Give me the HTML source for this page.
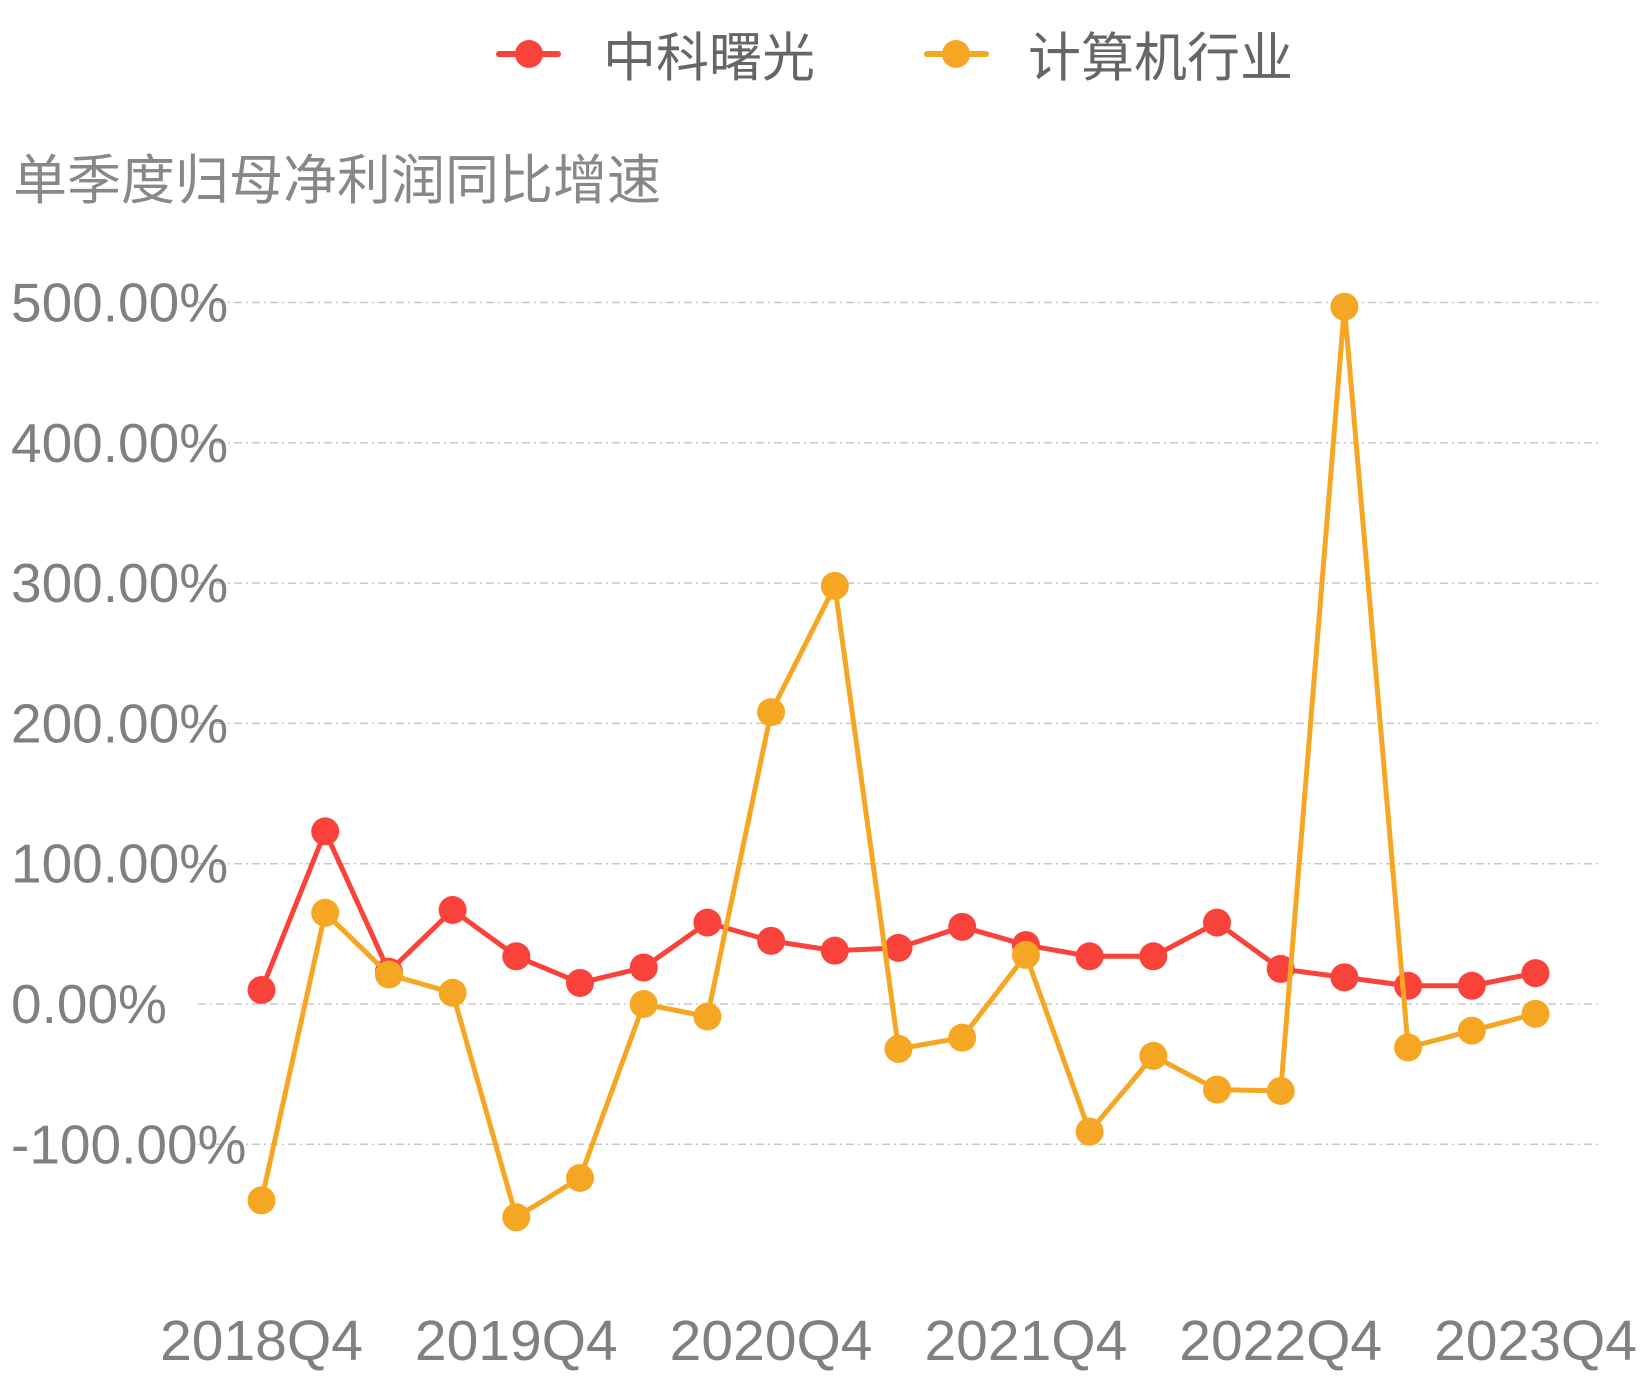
<!DOCTYPE html>
<html><head><meta charset="utf-8"><style>
html,body{margin:0;padding:0;background:#fff;width:1644px;height:1380px;overflow:hidden}
svg{display:block}
text{font-family:"Liberation Sans","Noto Sans CJK SC",sans-serif}
</style></head><body>
<svg id="c" width="1644" height="1380" xmlns="http://www.w3.org/2000/svg">
<line x1="499" y1="54" x2="558" y2="54" stroke="#f9423a" stroke-width="6" stroke-linecap="round"/>
<circle cx="529" cy="54" r="14" fill="#f9423a"/>
<text x="603" y="76" font-size="53" fill="#666">中科曙光</text>
<line x1="927" y1="54" x2="986" y2="54" stroke="#f5a623" stroke-width="6" stroke-linecap="round"/>
<circle cx="956" cy="54" r="14" fill="#f5a623"/>
<text x="1028" y="76" font-size="53" fill="#666">计算机行业</text>
<text x="13" y="199" font-size="54" fill="#888">单季度归母净利润同比增速</text>
</svg>
<script>
var s=document.getElementById('c'),ns='http://www.w3.org/2000/svg';
function el(t,a,txt){var e=document.createElementNS(ns,t);for(var k in a)e.setAttribute(k,a[k]);if(txt)e.textContent=txt;s.appendChild(e);return e;}
var y0=1004,k=1.403;
function Y(v){return y0-v*k;}
function X(i){return 261.5+i*63.7;}
var labs=['500.00%','400.00%','300.00%','200.00%','100.00%','0.00%','-100.00%'];
for(var j=0;j<7;j++){var v=500-100*j,y=Y(v);
el('line',{x1:198,y1:y,x2:1599,y2:y,stroke:'#c8c8c8','stroke-width':1.5,'stroke-dasharray':'8,4,2,4'});
el('text',{x:11,y:y+19,'font-size':55,fill:'#808080'},labs[j]);}
var xl=['2018Q4','2019Q4','2020Q4','2021Q4','2022Q4','2023Q4'];
for(var j=0;j<6;j++)el('text',{x:X(j*4),y:1360,'font-size':57,fill:'#808080','text-anchor':'middle'},xl[j]);
var red=[10,123,23,67,34,15,26,58,45,38,40,55,42,34,34,58,25,19,13,13,22];
var org=[-140,65,21,8,-152,-124,0,-9,208,298,-32,-24,35,-91,-37,-61,-62,497,-31,-19,-7];
function ser(d,c){var p=d.map(function(v,i){return X(i)+','+Y(v)}).join(' ');
el('polyline',{points:p,fill:'none',stroke:c,'stroke-width':5,'stroke-linejoin':'round'});
d.forEach(function(v,i){el('circle',{cx:X(i),cy:Y(v),r:14,fill:c});});}
ser(red,'#f9423a');ser(org,'#f5a623');
</script>
</body></html>
